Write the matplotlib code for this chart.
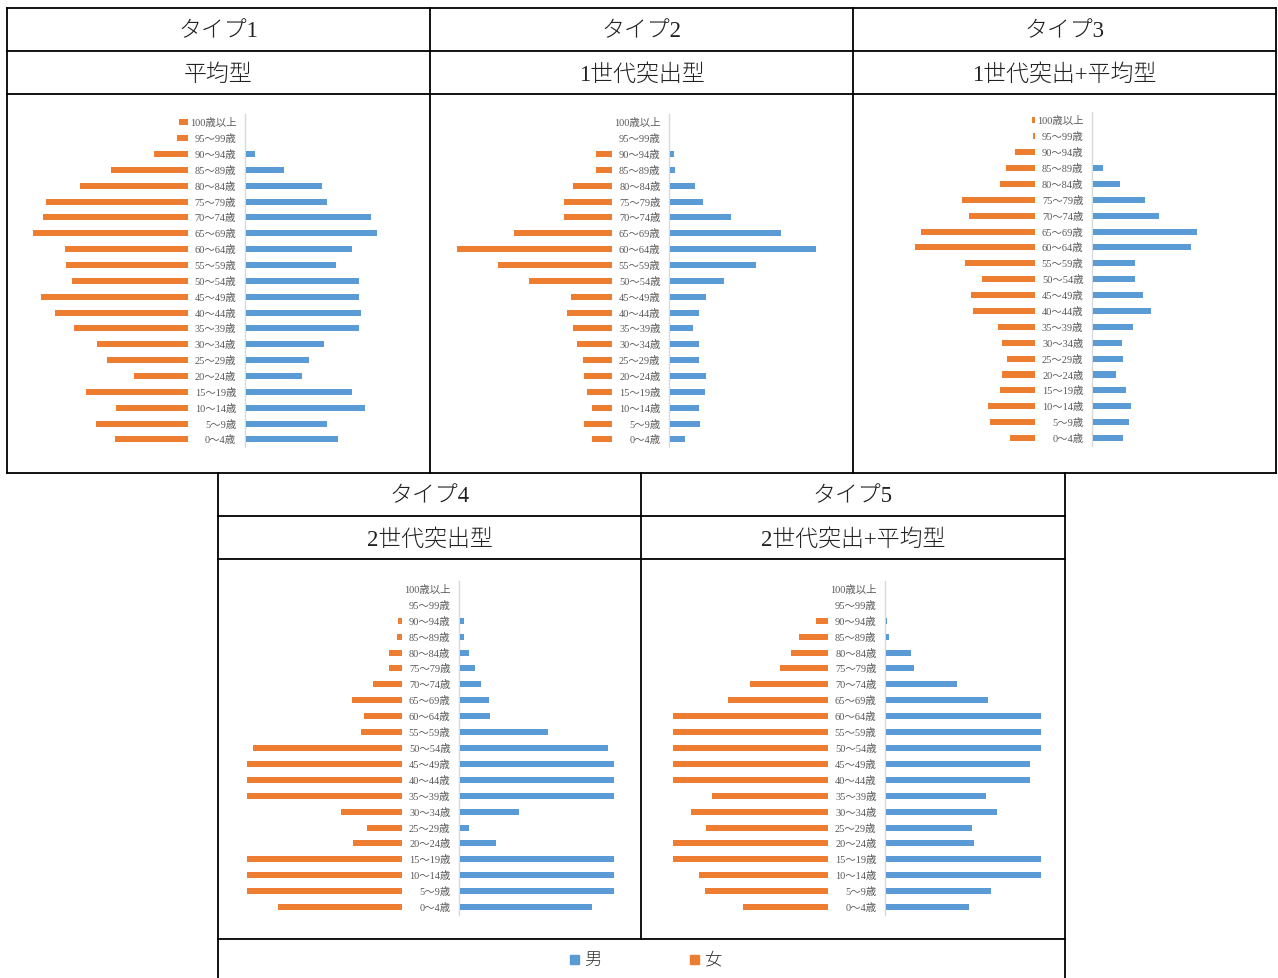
import matplotlib
matplotlib.use('Agg')
import matplotlib.pyplot as plt
from matplotlib.patches import Rectangle

plt.rcParams['font.family'] = ['Liberation Serif', 'Noto Sans CJK JP']

W, H = 1278, 979

# age groups, youngest first (bottom of each pyramid)
ages = ['0～4歳', '5～9歳', '10～14歳', '15～19歳', '20～24歳', '25～29歳',
        '30～34歳', '35～39歳', '40～44歳', '45～49歳', '50～54歳', '55～59歳',
        '60～64歳', '65～69歳', '70～74歳', '75～79歳', '80～84歳', '85～89歳',
        '90～94歳', '95～99歳', '100歳以上']

type_titles = ['タイプ1', 'タイプ2', 'タイプ3', 'タイプ4', 'タイプ5']
type_names = ['平均型', '1世代突出型', '1世代突出+平均型', '2世代突出型', '2世代突出+平均型']

female1 = [73, 92, 72, 102, 54, 81, 91, 114, 133, 147, 116, 122, 123, 155, 145, 142, 108, 77, 34, 11, 9]
male1 = [92, 81, 119, 106, 56, 63, 78, 113, 115, 113, 113, 90, 106, 131, 125, 81, 76, 38, 9, 0, 0]

female2 = [20, 28, 20, 25, 28, 29, 35, 39, 45, 41, 83, 114, 155, 98, 48, 48, 39, 16, 16, 0, 0]
male2 = [15, 30, 29, 35, 36, 29, 29, 23, 29, 36, 54, 86, 146, 111, 61, 33, 25, 5, 4, 0, 0]

female3 = [25, 45, 47, 35, 33, 28, 33, 37, 62, 64, 53, 70, 120, 114, 66, 73, 35, 29, 20, 2.3, 3]
male3 = [30, 36, 38, 33, 23, 30, 29, 40, 58, 50, 42, 42, 98, 104, 66, 52, 27, 10, 0, 0, 0]

female4 = [124, 155, 155, 155, 49, 35, 61, 155, 155, 155, 149, 41, 38, 50, 29, 13, 13, 5, 4, 0, 0]
male4 = [132, 154, 154, 154, 36, 9, 59, 154, 154, 154, 148, 88, 30, 29, 21, 15, 9, 4, 4, 0, 0]

female5 = [85, 123, 129, 155, 155, 122, 137, 116, 155, 155, 155, 155, 155, 100, 78, 48, 37, 29, 12, 0, 0]
male5 = [83, 105, 155, 155, 88, 86, 111, 100, 144, 144, 155, 155, 155, 102, 71, 28, 25, 3, 1, 0, 0]

females = [female1, female2, female3, female4, female5]
males = [male1, male2, male3, male4, male5]

C_MALE = '#5B9BD5'
C_FEMALE = '#ED7D31'

# cell layout in pixels: (left, right, header top, chart top, chart bottom)
cells = [(6.5, 430, 8.5, 115.4, 448.4),
         (430, 853, 8.5, 115.4, 448.4),
         (853, 1275.5, 8.5, 113.4, 447),
         (218, 641, 473.5, 582, 916),
         (641, 1064.5, 473.5, 582, 916)]
axis_x = [245, 669.3, 1092.3, 459.3, 885.3]

fig = plt.figure(figsize=(W / 100, H / 100), dpi=100)
bg = fig.add_axes([0, 0, 1, 1])
bg.set_xlim(0, W)
bg.set_ylim(H, 0)
bg.axis('off')


def px_rect(x0, y0, w, h):
    return [x0 / W, 1 - (y0 + h) / H, w / W, h / H]


lw = 1.3
# table grid
for y in [8.5, 51.5, 94.5, 473.5]:
    bg.plot([6.5, 1275.5], [y, y], color='black', lw=lw)
for x in [6.5, 430, 853, 1275.5]:
    bg.plot([x, x], [8.5, 473.5], color='black', lw=lw)
for y in [517, 560, 940]:
    bg.plot([218, 1064.5], [y, y], color='black', lw=lw)
for x in [218, 1064.5]:
    bg.plot([x, x], [473.5, H], color='black', lw=lw)
bg.plot([641, 641], [473.5, 940], color='black', lw=lw)

span = 160
for i, (left, right, htop, top, bottom) in enumerate(cells):
    cx = (left + right) / 2
    bg.text(cx, htop + 23.5, type_titles[i], ha='center', va='center',
            fontsize=16.5, fontweight='light', color='#222222')
    bg.text(cx, htop + 66.5, type_names[i], ha='center', va='center',
            fontsize=16.5, fontweight='light', color='#222222')

    ax0 = axis_x[i]
    h = bottom - top
    ax_f = fig.add_axes(px_rect(ax0 - 57.5 - span, top, span, h))
    ax_f.barh(range(len(ages)), females[i], height=0.38, color=C_FEMALE)
    ax_f.set_xlim(span, 0)
    ax_f.set_ylim(-0.5, len(ages) - 0.5)
    ax_f.axis('off')

    ax_m = fig.add_axes(px_rect(ax0 + 0.7, top, span, h))
    ax_m.barh(range(len(ages)), males[i], height=0.38, color=C_MALE)
    ax_m.set_xlim(0, span)
    ax_m.set_ylim(-0.5, len(ages) - 0.5)
    ax_m.axis('off')
    for j, lab in enumerate(ages):
        ax_m.text(-9.5, j, lab, ha='right', va='center', fontsize=7.5,
                  color='#595959', clip_on=False)

    bg.plot([ax0, ax0], [top, bottom], color='#D9D9D9', lw=1)

# legend
bg.add_patch(Rectangle((570, 955.5), 9, 9, color=C_MALE))
bg.text(584, 960.5, '男', ha='left', va='center', fontsize=12.5,
        fontweight='light', color='#333333')
bg.add_patch(Rectangle((690, 955.5), 9, 9, color=C_FEMALE))
bg.text(704, 960.5, '女', ha='left', va='center', fontsize=12.5,
        fontweight='light', color='#333333')

fig.savefig('out.png', dpi=100)
